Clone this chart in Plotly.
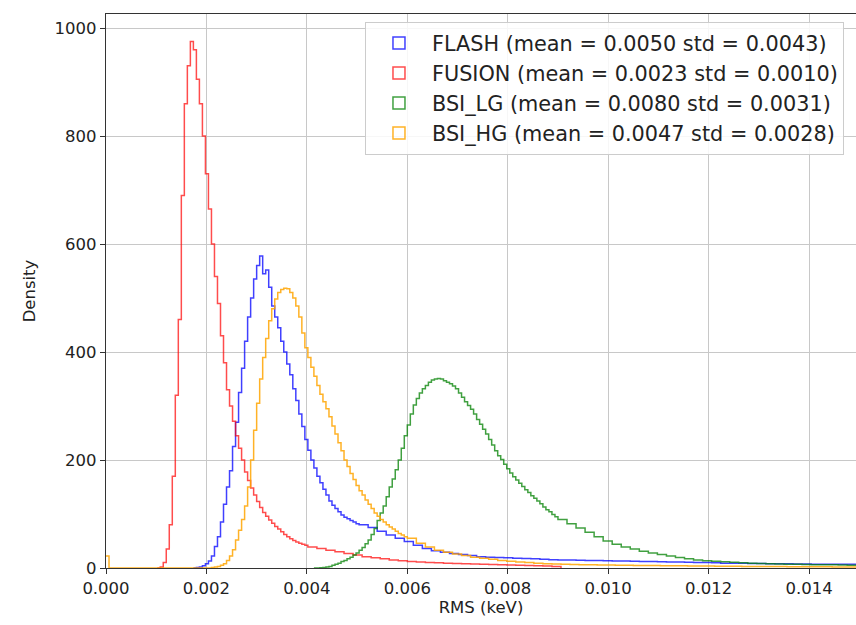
import plotly.graph_objects as go

# ---------------- data ----------------
# Each series: a fine-binned core (bin width CORE_BIN) followed by a coarser tail (bin width TAIL_BIN).
CORE_BIN = 0.00006
TAIL_BIN = 0.00018

flash_core_start = 0.00180
flash_core = [1, 2, 4, 8, 13, 22, 40, 58, 85, 118,
              150, 180, 225, 270, 325, 370, 420, 465, 500, 535,
              560, 578, 545, 552, 520, 485, 465, 445, 420, 400,
              378, 358, 332, 310, 285, 262, 238, 218, 200, 185,
              170, 158, 146, 135, 124, 116, 110, 104, 98, 94,
              91, 88, 85, 82]
flash_tail = [80, 75, 68, 61, 55, 49, 42, 36, 32, 29,
              27, 25, 23, 21, 20, 19.5, 19, 18, 17.5, 17,
              16, 15.5, 15, 15, 14.5, 14, 14, 13.5, 13, 13,
              12.5, 12, 12, 11.5, 11, 11, 10.5, 10, 10, 9.5,
              9, 9, 9, 8.5, 8.5, 8, 8, 8, 7.5, 7.5,
              7, 7, 7, 7, 7, 7]

fusion_core_start = 0.00108
fusion_core = [2, 10, 35, 80, 170, 320, 460, 690, 860, 930,
               975, 960, 905, 860, 800, 730, 665, 600, 540, 490,
               430, 380, 330, 300, 272, 245, 222, 200, 178, 162,
               148, 135, 123, 112, 103, 96, 89, 83, 77, 72,
               67, 62, 58, 54, 51, 48, 46, 44, 42]
fusion_tail = [39, 36, 33, 30, 27, 24, 21, 19, 17, 15,
               13.5, 12, 11, 10, 9.5, 9, 8.5, 8, 7.5, 7,
               6.5, 6, 5.5, 5, 4.5, 4, 3.5, 3]

bsi_lg_core_start = 0.00420
bsi_lg_core = [0, 0.5, 1, 2, 3, 5, 7, 9, 12, 14,
               17, 20, 24, 28, 33, 38, 45, 52, 62, 73,
               88, 102, 115, 132, 150, 165, 182, 200, 222, 245,
               265, 285, 302, 314, 324, 332, 338, 344, 348, 350,
               351, 350, 347, 344, 341, 337, 332, 324, 316, 308,
               301, 294, 285, 275, 266, 257, 248, 238, 228, 217,
               208, 201, 192, 184, 176, 169, 163, 157, 151, 145,
               140, 134, 129, 124, 119, 113, 108, 104, 99, 95]
bsi_lg_tail = [90, 82, 74, 66, 58, 50, 44, 39, 35, 31,
               28, 25, 22, 19.5, 17, 15, 13.5, 12.5, 11.5, 10.5,
               9.5, 9, 8.5, 8, 7.5, 7, 6.8, 6.5, 6.2, 6,
               5.8, 5.5, 5.2, 5]

bsi_hg_zero_bin = 22          # small spike in the very first bin at RMS = 0
bsi_hg_core_start = 0.00210
bsi_hg_core = [1, 2, 3, 5, 8, 14, 22, 34, 52, 70,
               90, 115, 150, 200, 255, 305, 350, 390, 425, 458,
               480, 498, 510, 516, 518, 517, 510, 500, 485, 465,
               435, 408, 390, 372, 355, 338, 322, 308, 295, 280,
               263, 248, 232, 217, 200, 188, 175, 164, 153, 143,
               135, 126, 118, 110, 102, 96, 90, 85, 80, 76,
               72, 68, 64, 61, 58]
bsi_hg_tail = [55, 46, 39, 33, 29, 26, 23, 20, 18, 16,
               14, 12.5, 11, 10, 9, 8, 7.5, 7, 6.5, 6.2,
               6, 5.7, 5.5, 5.2, 5, 4.8, 4.6, 4.4, 4.2, 4,
               4, 3.8, 3.6, 3.5, 3.4, 3.2, 3.1, 3, 3, 2.8,
               2.7, 2.6, 2.5, 2.4, 2.3, 2.2, 2.1, 2, 2, 2]

series_names = ["FLASH (mean = 0.0050 std = 0.0043)",
                "FUSION (mean = 0.0023 std = 0.0010)",
                "BSI_LG (mean = 0.0080 std = 0.0031)",
                "BSI_HG (mean = 0.0047 std = 0.0028)"]
series_colors = ["rgba(0,0,255,0.75)", "rgba(255,0,0,0.7)", "rgba(0,128,0,0.75)", "rgba(255,165,0,0.85)"]

x_ticks = [0.000, 0.002, 0.004, 0.006, 0.008, 0.010, 0.012, 0.014]
y_ticks = [0, 200, 400, 600, 800, 1000]


def step_outline(core_start, core, tail, lead=None):
    """Build the outline of a step histogram (like histtype='step')."""
    xs, ys = [], []
    if lead is not None:               # first bin at 0
        xs += [0.0, CORE_BIN]
        ys += [lead, 0]
    xs.append(core_start - CORE_BIN)
    ys.append(0)
    for i, v in enumerate(core):
        xs.append(core_start + i * CORE_BIN)
        ys.append(v)
    tail_start = core_start + len(core) * CORE_BIN
    for i, v in enumerate(tail):
        xs.append(tail_start + i * TAIL_BIN)
        ys.append(v)
    xs.append(tail_start + len(tail) * TAIL_BIN)
    ys.append(0)
    return xs, ys


outlines = [
    step_outline(flash_core_start, flash_core, flash_tail),
    step_outline(fusion_core_start, fusion_core, fusion_tail),
    step_outline(bsi_lg_core_start, bsi_lg_core, bsi_lg_tail),
    step_outline(bsi_hg_core_start, bsi_hg_core, bsi_hg_tail, lead=bsi_hg_zero_bin),
]

# ---------------- figure ----------------
fig = go.Figure()
for name, col, (xs, ys) in zip(series_names, series_colors, outlines):
    fig.add_trace(go.Scatter(
        x=xs, y=ys, mode="lines", line=dict(color=col, width=1.5, shape="hv"),
        name=name, legendgroup=name, showlegend=False, hoverinfo="skip", cliponaxis=True))

# legend entries drawn as outlined boxes (like matplotlib patch handles)
for name, col in zip(series_names, series_colors):
    fig.add_trace(go.Bar(
        x=[None], y=[None], name=name, legendgroup=name,
        marker=dict(color="rgba(255,255,255,0)", line=dict(color=col, width=1.5))))

axis_font = dict(family="DejaVu Sans", size=16.5, color="#222222")

fig.update_layout(
    width=856, height=625,
    margin=dict(l=106, r=0, t=14, b=57, autoexpand=False),
    paper_bgcolor="white", plot_bgcolor="white",
    font=dict(family="DejaVu Sans", color="#222222"),
    showlegend=True,
    legend=dict(
        x=0.3453, y=0.9856, xanchor="left", yanchor="top",
        bgcolor="rgba(255,255,255,0.85)", bordercolor="#cccccc", borderwidth=1,
        font=dict(family="DejaVu Sans", size=20.8, color="#222222"),
        itemwidth=56, tracegroupgap=0),
    xaxis=dict(
        type="linear", range=[0, 0.014935], tickvals=x_ticks, tickformat=".3f",
        automargin=False,
        showgrid=True, gridcolor="#c8c8c8", gridwidth=1,
        showline=True, linecolor="#333333", linewidth=1.2, mirror=True,
        ticks="outside", ticklen=5, tickcolor="#333333", tickfont=axis_font,
        zeroline=False,
        title=dict(text="RMS (keV)", font=axis_font, standoff=4)),
    yaxis=dict(
        range=[0, 1026], tickvals=y_ticks, automargin=False,
        showgrid=True, gridcolor="#c8c8c8", gridwidth=1,
        showline=True, linecolor="#333333", linewidth=1.2,
        ticks="outside", ticklen=5, tickcolor="#333333", tickfont=axis_font,
        zeroline=False,
        title=dict(text="Density", font=axis_font, standoff=14)),
)

fig.write_html(
    "out.html",
    config={"displayModeBar": False},
    post_script="document.body.style.margin='0';document.body.style.overflow='hidden';")
